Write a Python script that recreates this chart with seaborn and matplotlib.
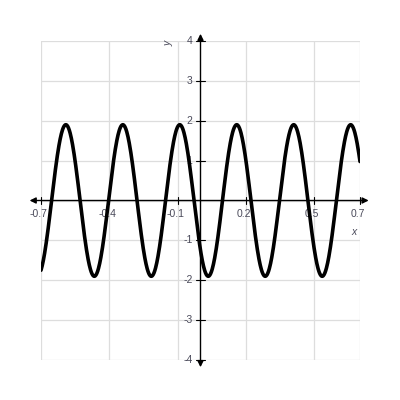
import numpy as np
import pandas as pd
import matplotlib
matplotlib.use("Agg")
import matplotlib.pyplot as plt
import seaborn as sns

# values
amplitude = 1.9
period = 0.25
peak_x = -0.091  # x of one crest
x_start, x_end = -0.7, 0.7
x_ticks = [-0.7, -0.4, -0.1, 0.2, 0.5, 0.7]
x_tick_labels = ["-0.7", "-0.4", "-0.1", "0.2", "0.5", "0.7"]
y_ticks = [-4, -3, -2, -1, 1, 2, 3, 4]
y_tick_labels = ["-4", "-3", "-2", "-1", "1", "2", "3", "4"]

xs = np.linspace(x_start, x_end, 800)
df = pd.DataFrame({"x": xs, "y": amplitude * np.cos(2 * np.pi / period * (xs - peak_x))})

sns.set_style("white")
plt.rcParams["font.family"] = ["Liberation Sans", "DejaVu Sans"]
fig = plt.figure(figsize=(4, 4), dpi=100)
ax = fig.add_axes([0.1025, 0.1, 0.7975, 0.7975])

ax.set_xlim(-0.7, 0.7)
ax.set_ylim(-4, 4)
for v in x_ticks:
    ax.axvline(v, color="#dddddd", lw=0.9, zorder=0)
for v in range(-4, 5):
    ax.axhline(v, color="#dddddd", lw=0.9, zorder=0)
for s in ax.spines.values():
    s.set_visible(False)
ax.set_xticks([])
ax.set_yticks([])

# axes with arrow heads
arr = dict(arrowstyle="<|-|>", color="black", lw=1.0, mutation_scale=9, shrinkA=0, shrinkB=0)
ax.annotate("", xy=(-0.75, 0), xytext=(0.738, 0), arrowprops=arr, annotation_clip=False, zorder=3)
ax.annotate("", xy=(0, 4.18), xytext=(0, -4.18), arrowprops=arr, annotation_clip=False, zorder=3)

sns.lineplot(data=df, x="x", y="y", color="black", lw=2.6, ax=ax, zorder=4)
ax.set_xlabel("")
ax.set_ylabel("")

lab = "#4a4a5a"
tick_w = 0.02
for v, t in zip(x_ticks, x_tick_labels):
    ax.plot([v, v], [-0.1, 0.1], color="black", lw=0.8, clip_on=False, zorder=3)
    ax.text(v - 0.01, -0.33, t, ha="center", va="center", fontsize=7.5, color=lab)
for v, t in zip(y_ticks, y_tick_labels):
    ax.plot([-tick_w, tick_w], [v, v], color="black", lw=0.8, clip_on=False, zorder=3)
    ax.text(-0.035, v, t, ha="right", va="center", fontsize=7.5, color=lab)

ax.text(0.675, -0.78, "x", ha="center", va="center", fontsize=7.5, style="italic", color=lab)
ax.text(-0.14, 3.95, "y", ha="center", va="center", fontsize=7.5, style="italic", color=lab, rotation=90)

fig.savefig("out.png", dpi=100)
